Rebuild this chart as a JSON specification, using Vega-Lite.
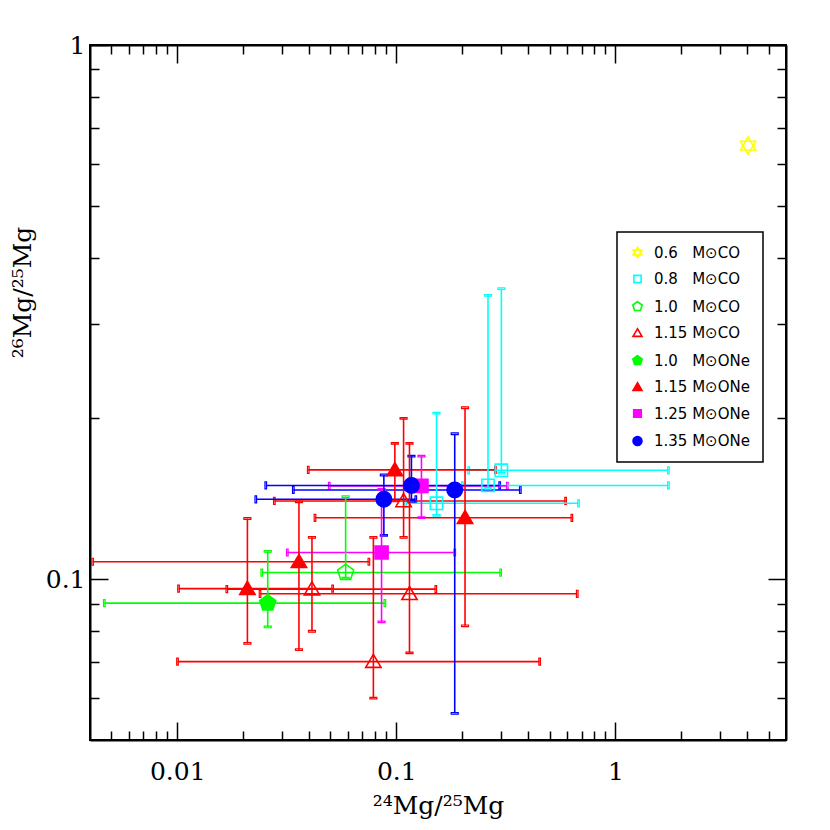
{
  "$schema": "https://vega.github.io/schema/vega-lite/v6.json",
  "width": 696,
  "height": 695,
  "autosize": "none",
  "padding": {"left": 90, "top": 45, "right": 44, "bottom": 90},
  "background": "white",
  "config": {
    "view": {"stroke": "black", "strokeWidth": 2},
    "axis": {
      "domainColor": "black", "domainWidth": 2, "tickColor": "black", "tickWidth": 1.5,
      "grid": false, "labelFont": "DejaVu Serif", "labelFontSize": 25, "labelColor": "black",
      "titleFont": "DejaVu Serif", "titleFontSize": 25, "titleFontWeight": "normal", "titleColor": "black",
      "labelOverlap": false, "labelFlush": false, "labelBound": false
    },
    "legend": {
      "strokeColor": "black", "strokeWidth": 1.5,
      "fillColor": "white", "padding": 13, "rowPadding": 10.5, "labelOffset": 9,
      "labelFont": "DejaVu Sans", "labelFontSize": 15, "labelColor": "black",
      "symbolSize": 80, "symbolStrokeWidth": 1.6, "symbolFillColor": "transparent", "cornerRadius": 0
    }
  },
  "data": {"values": [
    {"s": "0.6\u2007 M⊙CO", "x": 4.03, "y": 0.648},
    {"s": "0.8\u2007 M⊙CO", "x": 0.1525, "y": 0.1387, "xlo": 0.1105, "xhi": 0.678, "ylo": 0.1317, "yhi": 0.2046},
    {"s": "0.8\u2007 M⊙CO", "x": 0.262, "y": 0.1498, "xlo": 0.2, "xhi": 1.744, "ylo": 0.1479, "yhi": 0.34},
    {"s": "0.8\u2007 M⊙CO", "x": 0.3015, "y": 0.1599, "xlo": 0.2139, "xhi": 1.744, "ylo": 0.1579, "yhi": 0.35},
    {"s": "1.0\u2007 M⊙CO", "x": 0.0587, "y": 0.1029, "xlo": 0.02431, "xhi": 0.2993, "ylo": 0.1004, "yhi": 0.1427},
    {"s": "1.15 M⊙CO", "x": 0.04121, "y": 0.0958, "xlo": 0.01684, "xhi": 0.1514, "ylo": 0.0799, "yhi": 0.1198},
    {"s": "1.15 M⊙CO", "x": 0.07856, "y": 0.0701, "xlo": 0.01003, "xhi": 0.4507, "ylo": 0.0599, "yhi": 0.1198},
    {"s": "1.15 M⊙CO", "x": 0.1079, "y": 0.1401, "xlo": 0.02775, "xhi": 0.592, "ylo": 0.1197, "yhi": 0.2},
    {"s": "1.15 M⊙CO", "x": 0.1148, "y": 0.0939, "xlo": 0.02388, "xhi": 0.6691, "ylo": 0.0728, "yhi": 0.1796},
    {"s": "1.0\u2007 M⊙ONe", "x": 0.02589, "y": 0.0902, "xlo": 0.00465, "xhi": 0.08862, "ylo": 0.0814, "yhi": 0.1127},
    {"s": "1.15 M⊙ONe", "x": 0.02091, "y": 0.096, "xlo": 0.01014, "xhi": 0.0512, "ylo": 0.0758, "yhi": 0.1299},
    {"s": "1.15 M⊙ONe", "x": 0.03594, "y": 0.1078, "xlo": 0.004112, "xhi": 0.07493, "ylo": 0.0738, "yhi": 0.1396},
    {"s": "1.15 M⊙ONe", "x": 0.09845, "y": 0.1602, "xlo": 0.03964, "xhi": 0.283, "ylo": 0.1401, "yhi": 0.1796},
    {"s": "1.15 M⊙ONe", "x": 0.2058, "y": 0.1303, "xlo": 0.04253, "xhi": 0.6323, "ylo": 0.0818, "yhi": 0.2094},
    {"s": "1.25 M⊙ONe", "x": 0.08561, "y": 0.1122, "xlo": 0.0318, "xhi": 0.1847, "ylo": 0.0832, "yhi": 0.1473},
    {"s": "1.25 M⊙ONe", "x": 0.1302, "y": 0.1495, "xlo": 0.04941, "xhi": 0.321, "ylo": 0.1304, "yhi": 0.17},
    {"s": "1.35 M⊙ONe", "x": 0.08771, "y": 0.1411, "xlo": 0.02284, "xhi": 0.1227, "ylo": 0.1208, "yhi": 0.1567},
    {"s": "1.35 M⊙ONe", "x": 0.1172, "y": 0.1498, "xlo": 0.02536, "xhi": 0.2962, "ylo": 0.1399, "yhi": 0.17},
    {"s": "1.35 M⊙ONe", "x": 0.1847, "y": 0.1469, "xlo": 0.03387, "xhi": 0.3679, "ylo": 0.0561, "yhi": 0.1872}
  ]},
  "resolve": {"axis": {"x": "independent", "y": "independent"}},
  "layer": [
    {
      "transform": [{"filter": "false"}],
      "mark": {"type": "point", "size": 235, "strokeWidth": 1.6, "opacity": 1},
      "encoding": {
        "x": {"field": "x", "type": "quantitative", "scale": {"type": "log", "domain": [0.004, 6], "nice": false}, "axis": null},
        "y": {"field": "y", "type": "quantitative", "scale": {"type": "log", "domain": [0.05, 1], "nice": false}, "axis": null},
        "color": {"field": "s", "type": "nominal",
          "legend": {"title": null, "orient": "none", "legendX": 527, "legendY": 187},
          "scale": {"domain": ["0.6\u2007 M⊙CO", "0.8\u2007 M⊙CO", "1.0\u2007 M⊙CO", "1.15 M⊙CO", "1.0\u2007 M⊙ONe", "1.15 M⊙ONe", "1.25 M⊙ONe", "1.35 M⊙ONe"],
                    "range": ["#ffff00", "#00ffff", "#00ff00", "#ff0000", "#00ff00", "#ff0000", "#ff00ff", "#0000ff"]}},
        "shape": {"field": "s", "type": "nominal",
          "legend": {"title": null, "orient": "none", "legendX": 527, "legendY": 187},
          "scale": {"domain": ["0.6\u2007 M⊙CO", "0.8\u2007 M⊙CO", "1.0\u2007 M⊙CO", "1.15 M⊙CO", "1.0\u2007 M⊙ONe", "1.15 M⊙ONe", "1.25 M⊙ONe", "1.35 M⊙ONe"],
                    "range": ["M0,-1.15L0.996,0.575L-0.996,0.575Z M0,1.15L0.996,-0.575L-0.996,-0.575Z",
                              "M-0.8,-0.8H0.8V0.8H-0.8Z",
                              "M0,-1.1L1.046,-0.34L0.647,0.89L-0.647,0.89L-1.046,-0.34Z",
                              "M0,-0.95L1,0.75L-1,0.75Z",
                              "M0,-1.1L1.046,-0.34L0.647,0.89L-0.647,0.89L-1.046,-0.34Z",
                              "M0,-0.95L1,0.75L-1,0.75Z",
                              "M-0.85,-0.85H0.85V0.85H-0.85Z",
                              "circle"]}},
        "fill": {"field": "s", "type": "nominal",
          "legend": {"title": null, "orient": "none", "legendX": 527, "legendY": 187},
          "scale": {"domain": ["0.6\u2007 M⊙CO", "0.8\u2007 M⊙CO", "1.0\u2007 M⊙CO", "1.15 M⊙CO", "1.0\u2007 M⊙ONe", "1.15 M⊙ONe", "1.25 M⊙ONe", "1.35 M⊙ONe"],
                    "range": ["transparent", "transparent", "transparent", "transparent", "#00ff00", "#ff0000", "#ff00ff", "#0000ff"]}}
      }
    },
    {
      "transform": [{"filter": "isValid(datum.xlo)"}],
      "mark": {"type": "errorbar", "ticks": {"filled": false, "strokeWidth": 1.2}, "size": 7, "thickness": 1.6, "opacity": 1},
      "encoding": {
        "x": {"field": "xlo", "type": "quantitative", "scale": {"type": "log", "domain": [0.004, 6], "nice": false}, "axis": null},
        "x2": {"field": "xhi"},
        "y": {"field": "y", "type": "quantitative", "scale": {"type": "log", "domain": [0.05, 1], "nice": false}, "axis": null},
        "color": {"field": "s", "type": "nominal"}
      }
    },
    {
      "transform": [{"filter": "isValid(datum.ylo)"}],
      "mark": {"type": "errorbar", "ticks": {"filled": false, "strokeWidth": 1.2}, "size": 7, "thickness": 1.6, "opacity": 1},
      "encoding": {
        "y": {"field": "ylo", "type": "quantitative", "scale": {"type": "log", "domain": [0.05, 1], "nice": false}, "axis": null},
        "y2": {"field": "yhi"},
        "x": {"field": "x", "type": "quantitative", "scale": {"type": "log", "domain": [0.004, 6], "nice": false}, "axis": null},
        "color": {"field": "s", "type": "nominal"}
      }
    },
    {
      "mark": {"type": "point", "size": 235, "strokeWidth": 1.6, "opacity": 1},
      "encoding": {
        "x": {"field": "x", "type": "quantitative", "scale": {"type": "log", "domain": [0.004, 6], "nice": false},
          "axis": {"orient": "bottom", "values": [0.005, 0.006, 0.007, 0.008, 0.009, 0.01, 0.02, 0.03, 0.04, 0.05, 0.06, 0.07, 0.08, 0.09, 0.1, 0.2, 0.3, 0.4, 0.5, 0.6, 0.7, 0.8, 0.9, 1, 2, 3, 4, 5],
            "tickSize": {"condition": {"test": "datum.value == 0.01 || datum.value == 0.1 || datum.value == 1", "value": -18}, "value": -9},
            "labelExpr": "datum.value == 0.01 || datum.value == 0.1 || datum.value == 1 ? '' + datum.value : ''",
            "labelPadding": 37, "title": "²⁴Mg/²⁵Mg", "titleY": 65, "titleBaseline": "middle"}},
        "y": {"field": "y", "type": "quantitative", "scale": {"type": "log", "domain": [0.05, 1], "nice": false},
          "axis": {"orient": "left", "values": [0.06, 0.07, 0.08, 0.09, 0.1, 0.2, 0.3, 0.4, 0.5, 0.6, 0.7, 0.8, 0.9, 1],
            "tickSize": {"condition": {"test": "datum.value == 0.1 || datum.value == 1", "value": -18}, "value": -9},
            "labelExpr": "datum.value == 0.1 || datum.value == 1 ? '' + datum.value : ''",
            "labelPadding": 23, "title": "²⁶Mg/²⁵Mg", "titleX": -68, "titleY": 247, "titleAngle": -90, "titleAlign": "center", "titleBaseline": "middle"}},
        "color": {"field": "s", "type": "nominal"},
        "shape": {"field": "s", "type": "nominal"},
        "fill": {"field": "s", "type": "nominal"}
      }
    },
    {
      "mark": {"type": "point", "opacity": 0},
      "encoding": {
        "x": {"field": "x", "type": "quantitative", "scale": {"type": "log", "domain": [0.004, 6], "nice": false},
          "axis": {"orient": "top", "values": [0.005, 0.006, 0.007, 0.008, 0.009, 0.01, 0.02, 0.03, 0.04, 0.05, 0.06, 0.07, 0.08, 0.09, 0.1, 0.2, 0.3, 0.4, 0.5, 0.6, 0.7, 0.8, 0.9, 1, 2, 3, 4, 5],
            "tickSize": {"condition": {"test": "datum.value == 0.01 || datum.value == 0.1 || datum.value == 1", "value": -18}, "value": -9},
            "labels": false, "title": null}},
        "y": {"field": "y", "type": "quantitative", "scale": {"type": "log", "domain": [0.05, 1], "nice": false},
          "axis": {"orient": "right", "values": [0.06, 0.07, 0.08, 0.09, 0.1, 0.2, 0.3, 0.4, 0.5, 0.6, 0.7, 0.8, 0.9, 1],
            "tickSize": {"condition": {"test": "datum.value == 0.1 || datum.value == 1", "value": -18}, "value": -9},
            "labels": false, "title": null}}
      }
    }
  ]
}
